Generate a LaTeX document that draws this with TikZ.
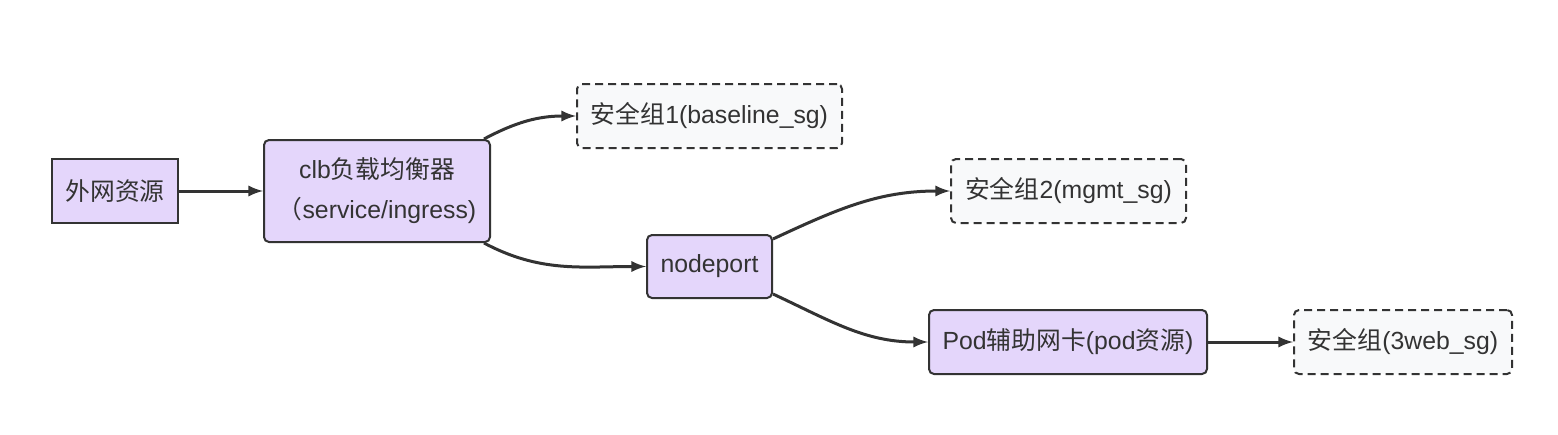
\documentclass[tikz,border=0pt]{standalone}
\usepackage{fontspec}
\setmainfont{Liberation Sans}
\newfontfamily\cjk{Noto Sans CJK SC}
\newcommand{\zh}[1]{{\cjk #1}}
\usepackage{tikz}
\usetikzlibrary{arrows,positioning}
\definecolor{boxfill}{HTML}{E4D6FB}
\definecolor{sgfill}{HTML}{F8F9FA}
\definecolor{ink}{HTML}{333333}

\begin{document}
\begin{tikzpicture}[x=0.5pt,y=-0.5pt,
    every node/.style={font=\fontsize{12.4}{20}\selectfont, text=ink},
    res/.style={draw=ink, line width=1pt, fill=boxfill, align=center, inner sep=0pt},
    sg/.style={draw=ink, line width=1pt, fill=sgfill, dash pattern=on 4pt off 2.5pt,
               rounded corners=2.5pt, inner sep=0pt, minimum height=32pt},
    edge/.style={draw=ink, line width=1.5pt, -latex}]
    \useasboundingbox (0,0) rectangle (1558,434);
    \node[res, minimum width=63pt, minimum height=32pt] (ext) at (115,191) {\zh{外网资源}};
    \node[res, rounded corners=2.5pt, minimum width=113pt, minimum height=51pt] (clb) at (377,191)
        {clb\zh{负载均衡器}\\\zh{（}service/ingress)};
    \node[sg, minimum width=132.5pt] (sg1) at (709.5,116) {\zh{安全组}1(baseline\_sg)};
    \node[res, rounded corners=2.5pt, minimum width=62.5pt, minimum height=31.5pt] (np) at (709.5,266.5) {nodeport};
    \node[sg, minimum width=117.5pt] (sg2) at (1068.5,191) {\zh{安全组}2(mgmt\_sg)};
    \node[res, rounded corners=2.5pt, minimum width=139pt, minimum height=32pt] (pod) at (1068,342)
        {Pod\zh{辅助网卡}(pod\zh{资源})};
    \node[sg, minimum width=109pt] (sg3) at (1403,342) {\zh{安全组}(3web\_sg)};
    % connectors
    \draw[edge] (ext) -- (clb);
    \draw[edge] ([xshift=-3.5pt]clb.north east) to[out=28,in=180] (sg1);
    \draw[edge] ([xshift=-3.5pt]clb.south east) to[out=-28,in=180] (np);
    \draw[edge] ([yshift=-2.5pt]np.north east) to[out=25,in=180] (sg2);
    \draw[edge] ([yshift=2.5pt]np.south east) to[out=-25,in=180] (pod);
    \draw[edge] (pod) -- (sg3);
\end{tikzpicture}
\end{document}
